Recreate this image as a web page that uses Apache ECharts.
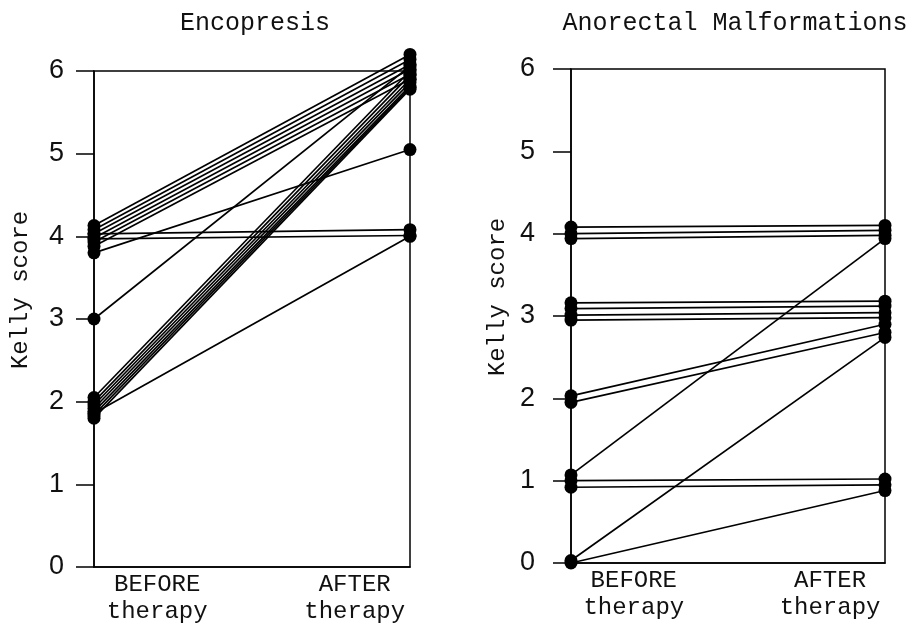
<!DOCTYPE html>
<html>
<head>
<meta charset="utf-8">
<script src="https://cdn.jsdelivr.net/npm/echarts@6/dist/echarts.min.js"></script>
<style>html,body{margin:0;padding:0;background:#fff}#c{width:916px;height:628px}</style>
</head>
<body>
<div id="c"></div>
<script>
// ---- data ----
const panelTitles = ["Encopresis", "Anorectal Malformations"];
const yAxisName = "Kelly score";
const xLabelBefore = "BEFORE\ntherapy";
const xLabelAfter = "AFTER\ntherapy";
const yTicks = [0, 1, 2, 3, 4, 5, 6];

// Encopresis: each index is one patient (before -> after)
const encBefore = [4.13, 4.08, 4.03, 3.98, 3.93, 3.88, 3.80, 4.03, 3.97, 3.00, 2.05, 2.00, 1.96, 1.92, 1.88, 1.84, 1.80, 1.86];
const encAfter  = [6.20, 6.14, 6.08, 6.02, 5.96, 5.90, 5.05, 4.08, 4.01, 6.06, 6.00, 5.95, 5.90, 5.86, 5.82, 5.80, 5.78, 4.00];

// Anorectal malformations
const anoBefore = [4.08, 4.00, 3.94, 3.16, 3.09, 3.01, 2.95, 2.03, 1.95, 1.07, 1.00, 0.92, 0.03, 0.00];
const anoAfter  = [4.10, 4.04, 3.98, 3.18, 3.12, 3.04, 2.98, 2.90, 2.80, 3.94, 1.02, 0.95, 2.74, 0.88];

// ---- chart ----
const mono = "Liberation Mono";
const chart = echarts.init(document.getElementById('c'), null, {renderer: 'canvas'});

function xAxisCfg(gridIndex) {
  return {
    gridIndex, type: 'value', min: 0, max: 1, interval: 0.025,
    axisLine: {show: true, lineStyle: {color: '#000', width: 1.5}},
    axisTick: {show: false}, splitLine: {show: false},
    axisLabel: {
      show: true, margin: 4, color: '#111', fontFamily: mono, fontSize: 24, lineHeight: 27,
      formatter: v => Math.abs(v - 0.2) < 1e-6 ? xLabelBefore : (Math.abs(v - 0.825) < 1e-6 ? xLabelAfter : '')
    }
  };
}
function yAxisCfg(gridIndex, labelMargin, namePad) {
  return {
    gridIndex, type: 'value', min: yTicks[0], max: yTicks[yTicks.length - 1], interval: 1,
    name: yAxisName, nameLocation: 'middle', nameRotate: 90, nameGap: 61,
    nameTextStyle: {fontFamily: mono, fontSize: 24, color: '#111', padding: [0, 0, 0, namePad]},
    axisLine: {show: true, lineStyle: {color: '#000', width: 1.5}},
    axisTick: {show: true, length: 18, lineStyle: {color: '#000', width: 1.5}},
    splitLine: {show: false},
    axisLabel: {margin: labelMargin, color: '#111', fontFamily: 'Liberation Sans', fontSize: 27}
  };
}
function pairSeries(before, after, idx) {
  return before.map((b, i) => ({
    type: 'line', xAxisIndex: idx, yAxisIndex: idx,
    data: [[0, b], [1, after[i]]],
    symbol: 'circle', symbolSize: 13, showSymbol: true,
    itemStyle: {color: '#000'},
    lineStyle: {color: '#000', width: 1.7},
    emphasis: {disabled: true}, animation: false, silent: true, clip: false
  }));
}

chart.setOption({
  backgroundColor: '#fff',
  animation: false,
  title: [
    {text: panelTitles[0], left: 250, top: 6, textAlign: 'center',
     textStyle: {fontFamily: mono, fontSize: 25, fontWeight: 'normal', color: '#111'}},
    {text: panelTitles[1], left: 730, top: 6, textAlign: 'center',
     textStyle: {fontFamily: mono, fontSize: 25, fontWeight: 'normal', color: '#111'}}
  ],
  grid: [
    {left: 94, top: 71, width: 316, height: 496, show: true, borderColor: '#000', borderWidth: 1.5, backgroundColor: 'transparent'},
    {left: 571, top: 69, width: 314, height: 494, show: true, borderColor: '#000', borderWidth: 1.5, backgroundColor: 'transparent'}
  ],
  xAxis: [xAxisCfg(0), xAxisCfg(1)],
  yAxis: [yAxisCfg(0, 30, 58), yAxisCfg(1, 36, 38)],
  series: [].concat(pairSeries(encBefore, encAfter, 0), pairSeries(anoBefore, anoAfter, 1))
});
</script>
</body>
</html>
